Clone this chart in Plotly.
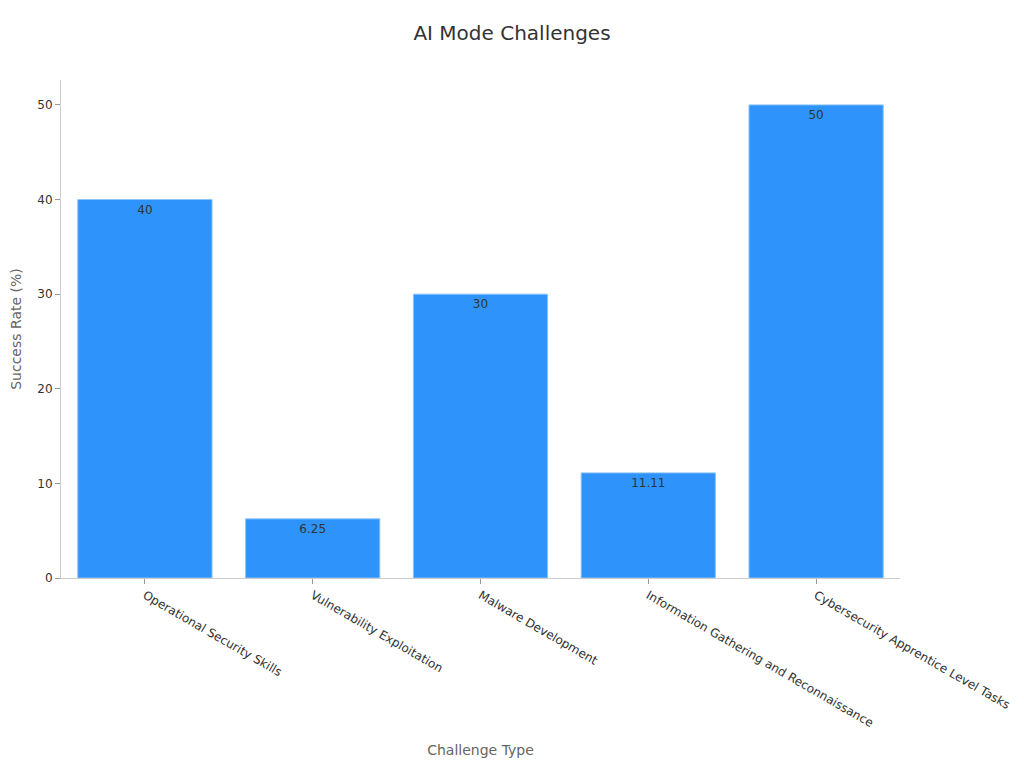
import plotly.graph_objects as go

categories = [
    "Operational Security Skills",
    "Vulnerability Exploitation",
    "Malware Development",
    "Information Gathering and Reconnaissance",
    "Cybersecurity Apprentice Level Tasks",
]
success_rate = [40, 6.25, 30, 11.11, 50]
bar_labels = ["40", "6.25", "30", "11.11", "50"]

fig = go.Figure()
fig.add_trace(go.Bar(
    x=categories,
    y=success_rate,
    text=bar_labels,
    textposition="inside",
    insidetextanchor="end",
    textfont=dict(color="#333333", size=12),
    marker=dict(color="#2E93FA", line=dict(color="#8cc4fb", width=1)),
    hoverinfo="x+y",
))

# the page keeps an 8px body margin, so margins are shifted by that much
fig.update_layout(
    title=dict(text="AI Mode Challenges", x=0.5, xanchor="center",
               y=1 - 25 / 752, yanchor="middle",
               font=dict(size=20, color="#333333")),
    font=dict(family="DejaVu Sans", size=12, color="#333333"),
    plot_bgcolor="white",
    paper_bgcolor="white",
    margin=dict(l=53, r=116, t=72, b=182),
    bargap=0.2,
    showlegend=False,
)
fig.update_xaxes(
    title=dict(text="Challenge Type", font=dict(size=14, color="#666666"), standoff=16),
    tickangle=30,
    ticks="outside",
    ticklen=5,
    tickcolor="#999999",
    showline=True,
    linecolor="#cccccc",
    showgrid=False,
    automargin=False,
)
fig.update_yaxes(
    title=dict(text="Success Rate (%)", font=dict(size=14, color="#666666")),
    ticks="outside",
    ticklen=5,
    tickcolor="#999999",
    showline=True,
    linecolor="#cccccc",
    showgrid=False,
    zeroline=False,
    dtick=10,
    automargin=False,
)

fig.write_html("out.html")
